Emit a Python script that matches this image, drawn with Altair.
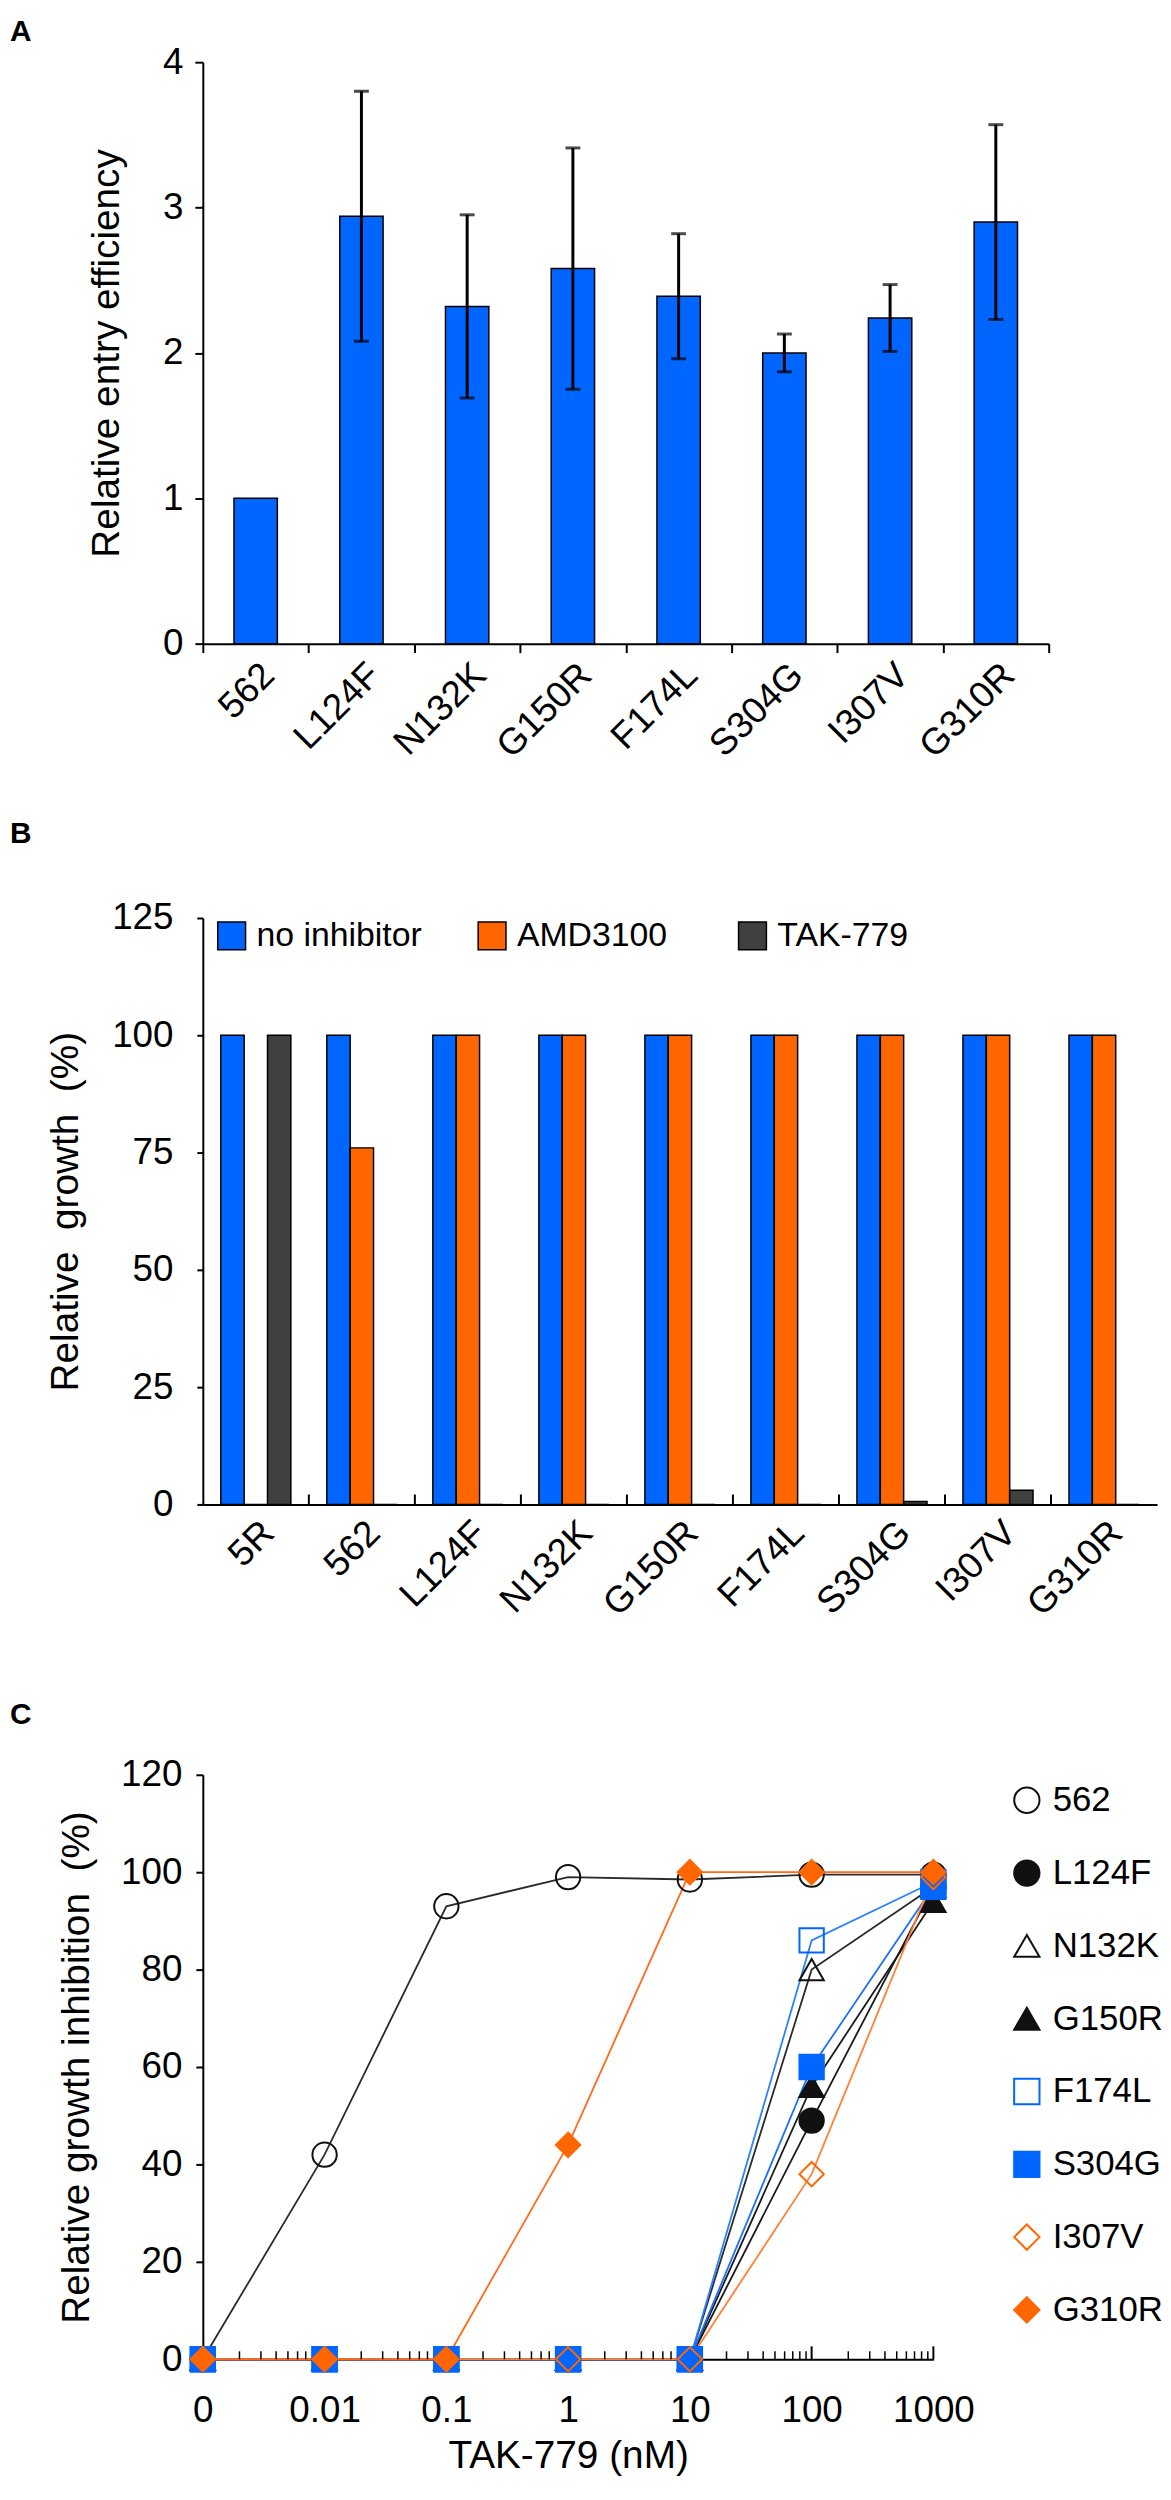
import altair as alt
import pandas as pd

# ---------------- data ----------------
# Panel A: relative entry efficiency (mean, error)
a_cats = ["562", "L124F", "N132K", "G150R", "F174L", "S304G", "I307V", "G310R"]
a_vals = [1.00, 2.94, 2.32, 2.58, 2.39, 2.00, 2.24, 2.90]
a_err = [None, 0.86, 0.63, 0.83, 0.43, 0.13, 0.23, 0.67]

# Panel B: relative growth (%)
b_cats = ["5R", "562", "L124F", "N132K", "G150R", "F174L", "S304G", "I307V", "G310R"]
b_series = ["no inhibitor", "AMD3100", "TAK-779"]
b_none = [100, 100, 100, 100, 100, 100, 100, 100, 100]
b_amd = [0, 76, 100, 100, 100, 100, 100, 100, 100]
b_tak = [100, 0, 0, 0, 0, 0, 0.6, 3, 0]

# Panel C: relative growth inhibition (%) vs TAK-779 (nM)
c_doses = [0, 0.01, 0.1, 1, 10, 100, 1000]
c_series = ["562", "L124F", "N132K", "G150R", "F174L", "S304G", "I307V", "G310R"]
c_562 = [0, 42, 93, 99, 98.5, 99.5, 99.5]
c_L124F = [0, 0, 0, 0, 0, 49, 97]
c_N132K = [0, 0, 0, 0, 0, 80, 97]
c_G150R = [0, 0, 0, 0, 0, 56, 94]
c_F174L = [0, 0, 0, 0, 0, 86, 98]
c_S304G = [0, 0, 0, 0, 0, 60, 97]
c_I307V = [0, 0, 0, 0, 0, 38, 99]
c_G310R = [0, 0, 0, 44, 100, 100, 100]

# ---------------- styles ----------------
BLUE = "#0066ff"
ORANGE = "#ff6600"
DARK = "#404040"
FONT = "Liberation Sans"

# ---------------- panel A ----------------
dfa = pd.DataFrame({"cat": a_cats, "val": a_vals, "err": a_err})
dfa["lo"] = dfa["val"] - dfa["err"]
dfa["hi"] = dfa["val"] + dfa["err"]
dfa_err = dfa.dropna()

ya_title = "Relative entry efficiency"
xa = alt.X("cat:N", sort=a_cats, title=None,
           scale=alt.Scale(paddingInner=0, paddingOuter=0),
           axis=alt.Axis(labelAngle=-45, tickBand="extent", tickSize=9, labelPadding=4))
ya_axis = alt.Axis(values=[0, 1, 2, 3, 4], tickSize=8, labelPadding=12, titlePadding=36)
ya_scale = alt.Scale(domain=[0, 4])

bars_a = alt.Chart(dfa).mark_bar(color=BLUE, stroke="black", strokeWidth=1.5,
                                 width=alt.RelativeBandSize(0.41)).encode(
    x=xa, y=alt.Y("val:Q", scale=ya_scale, axis=ya_axis, title=ya_title))
err_a = alt.Chart(dfa_err).mark_rule(color="black", strokeWidth=3).encode(
    x=xa, y=alt.Y("lo:Q", scale=ya_scale, axis=ya_axis, title=ya_title), y2="hi:Q")
cap_hi = alt.Chart(dfa_err).mark_tick(color="black", thickness=3, size=15).encode(
    x=xa, y=alt.Y("hi:Q", scale=ya_scale, axis=ya_axis, title=ya_title))
cap_lo = alt.Chart(dfa_err).mark_tick(color="black", thickness=3, size=15).encode(
    x=xa, y=alt.Y("lo:Q", scale=ya_scale, axis=ya_axis, title=ya_title))

chart_a = alt.layer(bars_a, err_a, cap_hi, cap_lo).properties(
    width=851, height=585,
    title=alt.TitleParams("A", anchor="start", frame="group", dx=-194, offset=-4))

# ---------------- panel B ----------------
rows = []
for i, c in enumerate(b_cats):
    rows.append({"cat": c, "inhibitor": b_series[0], "val": b_none[i]})
    rows.append({"cat": c, "inhibitor": b_series[1], "val": b_amd[i]})
    rows.append({"cat": c, "inhibitor": b_series[2], "val": b_tak[i]})
dfb = pd.DataFrame(rows)

HB = 590
xb = alt.X("cat:N", sort=b_cats, title=None,
           scale=alt.Scale(paddingInner=0, paddingOuter=0),
           axis=alt.Axis(labelAngle=-45, ticks=False, labelPadding=10))
bars_b = alt.Chart(dfb).mark_bar(stroke="black", strokeWidth=1.5).encode(
    x=xb,
    xOffset=alt.XOffset("inhibitor:N", sort=b_series,
                        scale=alt.Scale(paddingInner=0, paddingOuter=0.77)),
    y=alt.Y("val:Q", scale=alt.Scale(domain=[0, 125]),
            axis=alt.Axis(values=[0, 25, 50, 75, 100, 125], tickSize=6,
                          labelPadding=24, titlePadding=26),
            title="Relative\u00a0 growth\u00a0 (%)"),
    color=alt.Color("inhibitor:N", sort=b_series,
                    scale=alt.Scale(domain=b_series, range=[BLUE, ORANGE, DARK]),
                    legend=alt.Legend(title=None, orient="none", legendX=12, legendY=1,
                                      direction="horizontal", columns=3, gridAlign="all",
                                      columnPadding=53, symbolType="square", symbolSize=784,
                                      symbolStrokeColor="black", symbolStrokeWidth=1.5,
                                      labelFontSize=34, labelOffset=8, padding=0,
                                      labelLimit=400)))
ticks_b = alt.Chart(pd.DataFrame({"cat": b_cats[1:]})).mark_rule(
    color="black", strokeWidth=2).encode(
    x=alt.X("cat:N", sort=b_cats, bandPosition=0, title=None),
    y=alt.value(HB), y2=alt.value(HB - 10))

chart_b = alt.layer(bars_b, ticks_b).properties(
    width=960, height=HB,
    title=alt.TitleParams("B", anchor="start", frame="group", dx=-194, offset=50))

# ---------------- panel C ----------------
c_vals = [c_562, c_L124F, c_N132K, c_G150R, c_F174L, c_S304G, c_I307V, c_G310R]
rowsc = []
for s, vals in zip(c_series, c_vals):
    for d, v in zip(c_doses, vals):
        rowsc.append({"mutant": s, "dose": d, "pos": d if d > 0 else 0.001, "val": v})
dfc = pd.DataFrame(rowsc)

HC = 588
line_colors = ["#2a2a2a", "#1a1a1a", "#2a2a2a", "#1a1a1a", "#2f80ff", "#1f6fff", "#ff8033", "#ff6a1a"]
pt_stroke = ["#111111", "#111111", "#111111", "#111111", BLUE, BLUE, ORANGE, ORANGE]
pt_fill = ["transparent", "#111111", "transparent", "#111111", "transparent", BLUE, "transparent", ORANGE]
pt_shape = ["circle", "circle", "triangle-up", "triangle-up", "square", "square", "diamond", "diamond"]

shape_enc = alt.Shape("mutant:N", sort=c_series,
                      scale=alt.Scale(domain=c_series, range=pt_shape), legend=None)
stroke_enc = alt.Stroke("mutant:N", sort=c_series,
                        scale=alt.Scale(domain=c_series, range=pt_stroke), legend=None)
fill_enc = alt.Fill("mutant:N", sort=c_series,
                    scale=alt.Scale(domain=c_series, range=pt_fill), legend=None)

major_vals = [0.001, 0.01, 0.1, 1, 10, 100, 1000]
label_expr = "datum.value < 0.005 ? '0' : format(datum.value, '~g')"
xc = alt.X("pos:Q", title="TAK-779 (nM)",
           scale=alt.Scale(type="log", domain=[0.001, 1000], nice=False),
           axis=alt.Axis(values=major_vals, labelExpr=label_expr, ticks=False,
                         labelFlush=False, labelPadding=34, titlePadding=8))
yc = alt.Y("val:Q", scale=alt.Scale(domain=[0, 120]),
           axis=alt.Axis(values=[0, 20, 40, 60, 80, 100, 120], tickSize=7,
                         labelFlush=False, labelPadding=14, titlePadding=24),
           title="Relative growth inhibition\u00a0 (%)")

lines_c = alt.Chart(dfc).mark_line(strokeWidth=1.8).encode(
    x=xc, y=yc,
    color=alt.Color("mutant:N", sort=c_series,
                    scale=alt.Scale(domain=c_series, range=line_colors), legend=None))

decades = [0.001, 0.01, 0.1, 1, 10, 100]
minor_pos = [k * d for d in decades for k in range(2, 10)]
minor_c = alt.Chart(pd.DataFrame({"pos": minor_pos})).mark_rule(
    color="black", strokeWidth=1.5).encode(x=xc, y=alt.value(HC), y2=alt.value(HC - 8))
major_c = alt.Chart(pd.DataFrame({"pos": major_vals[1:]})).mark_rule(
    color="black", strokeWidth=2).encode(x=xc, y=alt.value(HC), y2=alt.value(HC - 13))

points_c = alt.Chart(dfc).mark_point(size=600, strokeWidth=2, opacity=1).encode(
    x=xc, y=yc, shape=shape_enc, stroke=stroke_enc, fill=fill_enc)

chart_c = alt.layer(lines_c, minor_c, major_c, points_c).properties(
    width=735, height=HC,
    title=alt.TitleParams("C", anchor="start", frame="group", dx=-194, offset=26))

# legend for panel C, drawn from the series list through the same scales
dfl = pd.DataFrame({"mutant": c_series})
yl = alt.Y("mutant:N", sort=c_series, axis=None,
           scale=alt.Scale(type="point", padding=0.35))
leg_pts = alt.Chart(dfl).mark_point(size=650, strokeWidth=2, opacity=1).encode(
    x=alt.value(14), y=yl, shape=shape_enc, stroke=stroke_enc, fill=fill_enc)
leg_txt = alt.Chart(dfl).mark_text(align="left", baseline="middle", fontSize=35,
                                   font=FONT, color="black").encode(
    x=alt.value(40), y=yl, text="mutant:N")
legend_chart = alt.layer(leg_pts, leg_txt).properties(width=140, height=564)

row_c = alt.hconcat(chart_c, legend_chart, spacing=35).resolve_scale(
    x="independent", y="independent")

# ---------------- combine ----------------
top = alt.vconcat(chart_a, chart_b, spacing=55).resolve_scale(color="independent")
chart = alt.vconcat(top, row_c, spacing=78).resolve_scale(color="independent").properties(
    padding={"left": 2, "top": 2, "right": 0, "bottom": 0}
).configure_view(stroke=None).configure_axis(
    labelFont=FONT, titleFont=FONT, labelFontSize=37, titleFontSize=39,
    labelColor="black", titleColor="black", domainColor="black", tickColor="black",
    domainWidth=2, tickWidth=2, grid=False, titleFontWeight="normal"
).configure_legend(
    labelFont=FONT, labelColor="black"
).configure_title(
    font=FONT, fontSize=30, fontWeight="bold", color="black"
)

chart.save("out.html", embed_options={"renderer": "svg", "actions": False})
